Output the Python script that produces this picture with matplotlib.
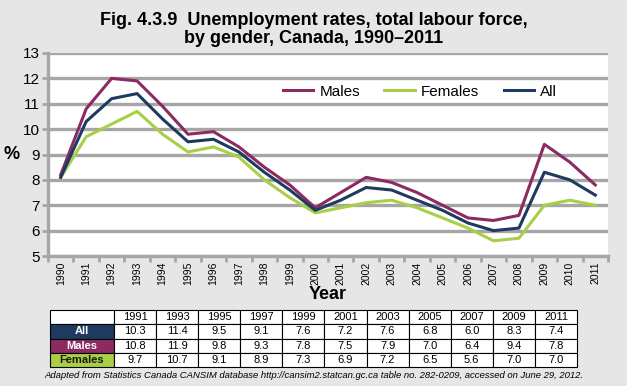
import numpy as np
import matplotlib.pyplot as plt

years = list(range(1990, 2012))
all_rate = [8.1, 10.3, 11.2, 11.4, 10.4, 9.5, 9.6, 9.1, 8.3, 7.6, 6.8,
            7.2, 7.7, 7.6, 7.2, 6.8, 6.3, 6.0, 6.1, 8.3, 8.0, 7.4]
males = [8.2, 10.8, 12.0, 11.9, 10.9, 9.8, 9.9, 9.3, 8.5, 7.8, 6.9,
         7.5, 8.1, 7.9, 7.5, 7.0, 6.5, 6.4, 6.6, 9.4, 8.7, 7.8]
females = [8.1, 9.7, 10.2, 10.7, 9.8, 9.1, 9.3, 8.9, 8.0, 7.3, 6.7,
           6.9, 7.1, 7.2, 6.9, 6.5, 6.1, 5.6, 5.7, 7.0, 7.2, 7.0]

table_years = ['1991', '1993', '1995', '1997', '1999', '2001', '2003', '2005', '2007', '2009', '2011']
table_all = ['10.3', '11.4', '9.5', '9.1', '7.6', '7.2', '7.6', '6.8', '6.0', '8.3', '7.4']
table_males = ['10.8', '11.9', '9.8', '9.3', '7.8', '7.5', '7.9', '7.0', '6.4', '9.4', '7.8']
table_females = ['9.7', '10.7', '9.1', '8.9', '7.3', '6.9', '7.2', '6.5', '5.6', '7.0', '7.0']

c_males = '#8c2a62'
c_females = '#a8cf45'
c_all = '#1f3a60'
grid_c = '#a6a6a6'
bg = '#e6e6e6'

plt.rcParams['font.family'] = ['Liberation Sans', 'DejaVu Sans']

fig = plt.figure(figsize=(6.27, 3.86), dpi=100, facecolor=bg)
ax = fig.add_axes([48/627, 1-256/386, 560/627, 203/386])
ax.set_facecolor('white')

x = np.arange(len(years))
ax.plot(x, males, color=c_males, lw=2.2, label='Males')
ax.plot(x, females, color=c_females, lw=2.2, label='Females')
ax.plot(x, all_rate, color=c_all, lw=2.2, label='All')

ax.set_xlim(-0.5, len(years) - 0.5)
ax.set_ylim(5, 13)
ax.set_yticks(range(5, 14))
ax.set_xticks(x)
ax.set_xticklabels([str(y) for y in years], rotation=90, fontsize=7.5)
ax.set_xticks(np.arange(-0.5, len(years)), minor=True)
ax.tick_params(axis='x', which='major', length=0, pad=4)
ax.tick_params(axis='x', which='minor', length=4, width=2, color=grid_c)
ax.tick_params(axis='y', length=4, width=2, color=grid_c, labelsize=11, pad=2)
ax.grid(axis='y', color=grid_c, lw=2.4)
ax.set_axisbelow(True)
for s in ['top', 'right']:
    ax.spines[s].set_visible(False)
for s in ['left', 'bottom']:
    ax.spines[s].set_color(grid_c)
    ax.spines[s].set_linewidth(2.4)

ax.set_ylabel('%', rotation=0, fontsize=13, fontweight='bold', labelpad=8, va='center')
ax.set_xlabel('Year', fontsize=13, fontweight='bold', labelpad=1)

ax.legend(loc='center left', bbox_to_anchor=(0.4, 0.81), ncol=3, frameon=False,
          fontsize=11, handlelength=2.0, handletextpad=0.4, columnspacing=1.6, borderpad=0.2)

fig.text(0.5, 0.97, 'Fig. 4.3.9  Unemployment rates, total labour force,\nby gender, Canada, 1990\u20132011',
         ha='center', va='top', fontsize=13, fontweight='bold', linespacing=1.1)

# data table
tax = fig.add_axes([50/627, 1-367/386, 527/627, 57/386])
tax.axis('off')
cells = [[''] + table_years,
         ['All'] + table_all,
         ['Males'] + table_males,
         ['Females'] + table_females]
widths = [64/527] + [(527-64)/527/len(table_years)] * len(table_years)
tbl = tax.table(cellText=cells, bbox=[0, 0, 1, 1], colWidths=widths, cellLoc='center')
tbl.auto_set_font_size(False)
tbl.set_fontsize(8)
row_colors = {1: (c_all, 'white'), 2: (c_males, 'white'), 3: (c_females, '#1a1a1a')}
for (r, c), cell in tbl.get_celld().items():
    cell.set_edgecolor('black')
    cell.set_linewidth(0.8)
    cell.set_facecolor('white')
    if c == 0 and r in row_colors:
        cell.set_facecolor(row_colors[r][0])
        cell.get_text().set_color(row_colors[r][1])
        cell.get_text().set_fontweight('bold')

fig.text(0.5, 1-376/386, 'Adapted from Statistics Canada CANSIM database http://cansim2.statcan.gc.ca table no. 282-0209, accessed on June 29, 2012.',
         ha='center', va='center', fontsize=6.8, style='italic')

fig.savefig('out.png', dpi=100, facecolor=bg)
